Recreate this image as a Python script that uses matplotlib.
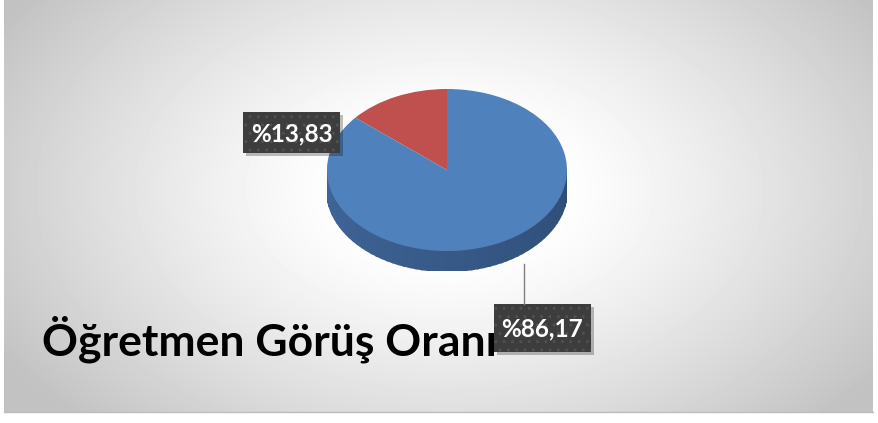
import numpy as np
import matplotlib
matplotlib.use("Agg")
import matplotlib.pyplot as plt
from matplotlib.patches import Rectangle, Polygon

# data
labels = ["Olumsuz", "Olumlu"]
values = [13.83, 86.17]
colors = ["#c0504d", "#4f81bd"]
title = "Öğretmen Görüş Oranı"

W, H = 879, 423
fig = plt.figure(figsize=(W / 100, H / 100), dpi=100)
fig.patch.set_facecolor("white")

# background with radial gradient
bg = fig.add_axes([4 / W, (H - 412) / H, 869 / W, 412 / H])
yy, xx = np.mgrid[0:412, 0:869]
r = np.sqrt(((xx - 445) / 520) ** 2 + ((yy - 190) / 330) ** 2)
shade = 1 - 0.24 * np.clip((r - 0.2) / 0.8, 0, 1) ** 1.2
bg.imshow(shade, cmap="gray", vmin=0, vmax=1, aspect="auto")
bg.axis("off")

# pie axes: top face bbox x 327..567, y 89..251, side depth 20px
depth = 20 / 81
pax = fig.add_axes([327 / W, (H - 271) / H, 240 / W, 182 / H])
pax.set_zorder(1)

# side of the pie (lower half of the ellipse pushed down)
n = 60
ang = np.linspace(np.pi, 2 * np.pi, n + 1)
for i in range(n):
    a0, a1 = ang[i], ang[i + 1]
    t = i / n
    c = np.array([0.25, 0.40, 0.60]) * (1 - 0.45 * t) + np.array([0.10, 0.18, 0.30]) * 0.45 * t
    pts = [(np.cos(a0), np.sin(a0)), (np.cos(a1), np.sin(a1)),
           (np.cos(a1), np.sin(a1) - depth), (np.cos(a0), np.sin(a0) - depth)]
    pax.add_patch(Polygon(pts, closed=True, fc=c, ec=c, lw=1.5))

pax.pie(values, colors=colors, startangle=90, counterclock=True,
        wedgeprops=dict(linewidth=0))
pax.set_aspect("auto")
pax.set_xlim(-1, 1)
pax.set_ylim(-1 - depth, 1)
pax.axis("off")

# overlay in pixel coords
ov = fig.add_axes([0, 0, 1, 1])
ov.set_zorder(2)
ov.patch.set_alpha(0)
ov.set_xlim(0, W)
ov.set_ylim(H, 0)
ov.axis("off")

ov.text(42, 339, title, fontsize=32, fontweight="bold", family="Lato",
        color="black", ha="left", va="center")

# leader line for the big slice
ov.plot([524, 524], [264, 304], color="#7f7f7f", lw=1)

def label_box(x0, y0, w, h, txt):
    ov.add_patch(Rectangle((x0 + 3, y0 + 3), w, h, fc="#000000", alpha=0.25, lw=0))
    ov.add_patch(Rectangle((x0, y0), w, h, fc="#3d3d3d", ec="#505050", lw=0, hatch=".."))
    ov.text(x0 + w / 2, y0 + h / 2 + 1, txt, fontsize=17.5, fontweight="bold",
            family="Lato", color="white", ha="center", va="center")

fmt = lambda v: "%" + f"{v:.2f}".replace(".", ",")
label_box(243, 112, 97, 41, fmt(values[0]))
label_box(494, 304, 97, 48, fmt(values[1]))

# bottom border line
ov.plot([4, 873], [412.5, 412.5], color="#bdbdbd", lw=1)

fig.savefig("out.png", dpi=100)
